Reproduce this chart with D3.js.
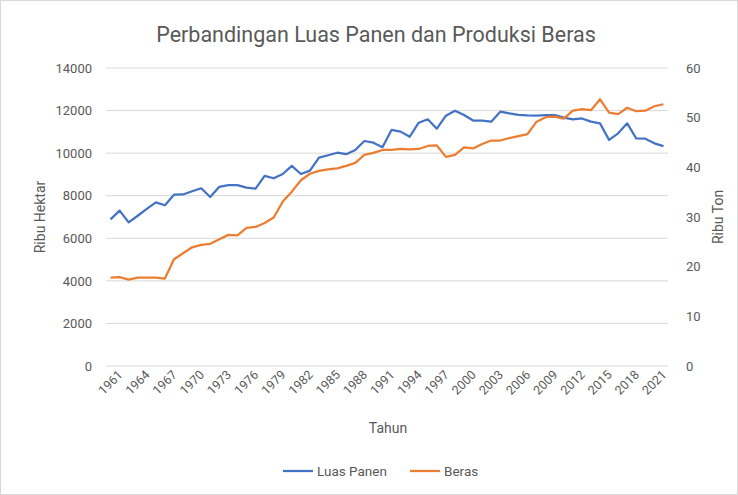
<!DOCTYPE html>
<html>
<head>
<meta charset="utf-8">
<script src="https://cdn.jsdelivr.net/npm/d3@7"></script>
<style>
  body { margin: 0; background: #fff; }
  text { font-family: "Liberation Sans Narrow", "Roboto", sans-serif; fill: #595959; }
</style>
</head>
<body>
<div id="chart"></div>
<script>
// data
var years = d3.range(1961, 2023)
var luasPanen = [6890, 7300, 6750, 7060, 7380, 7690, 7550, 8050, 8060, 8210,
  8350, 7940, 8420, 8500, 8500, 8380, 8330, 8930, 8820, 9020,
  9400, 9020, 9180, 9790, 9900, 10020, 9950, 10150, 10570, 10490,
  10280, 11090, 11010, 10770, 11430, 11590, 11150, 11760, 11990, 11790,
  11530, 11530, 11480, 11950, 11870, 11800, 11770, 11760, 11790, 11790,
  11670, 11590, 11630, 11480, 11400, 10620, 10930, 11400, 10690, 10680,
  10460, 10330]
var beras = [17.8, 17.9, 17.4, 17.8, 17.8, 17.8, 17.6, 21.5, 22.7, 23.9,
  24.4, 24.6, 25.5, 26.4, 26.3, 27.8, 28.0, 28.8, 29.9, 33.1,
  35.1, 37.4, 38.7, 39.3, 39.6, 39.8, 40.3, 40.9, 42.5, 42.9,
  43.5, 43.5, 43.7, 43.6, 43.7, 44.3, 44.4, 42.1, 42.5, 44.0,
  43.8, 44.7, 45.4, 45.4, 45.9, 46.3, 46.7, 49.2, 50.1, 50.2,
  49.8, 51.4, 51.7, 51.5, 53.7, 51.0, 50.7, 52.0, 51.3, 51.4,
  52.3, 52.7]
var leftTicks = [0, 2000, 4000, 6000, 8000, 10000, 12000, 14000]
var rightTicks = [0, 10, 20, 30, 40, 50, 60]
var yearTicks = years.filter(function(d, i) { return i % 3 == 0 })

var W = 738, H = 495
var plotL = 106, plotR = 668, plotT = 68, plotB = 366

var svg = d3.select("#chart")
  .append("svg")
    .attr("width", W)
    .attr("height", H)

// chart border
svg.append("rect")
  .attr("x", 0.5).attr("y", 0.5)
  .attr("width", W - 1).attr("height", H - 1)
  .attr("fill", "#fff")
  .attr("stroke", "#d9d9d9")

var x = d3.scalePoint()
  .domain(years)
  .range([plotL, plotR])
  .padding(0.5)

var y = d3.scaleLinear().domain([0, 14000]).range([plotB, plotT])
var y2 = d3.scaleLinear().domain([0, 60]).range([plotB, plotT])

// gridlines
svg.append("g")
  .selectAll("line")
  .data(leftTicks)
  .enter()
  .append("line")
    .attr("x1", plotL).attr("x2", plotR)
    .attr("y1", function(d) { return y(d) })
    .attr("y2", function(d) { return y(d) })
    .attr("stroke", "#d9d9d9")
    .attr("stroke-width", 1)

// left axis
var gl = svg.append("g")
  .attr("transform", "translate(" + (plotL - 14) + ",0)")
  .call(d3.axisLeft(y).tickValues(leftTicks).tickFormat(d3.format("d")).tickSize(0).tickPadding(0))
gl.select(".domain").remove()
gl.selectAll("text").style("font-size", "13px").style("fill", "#595959")

// right axis
var gr = svg.append("g")
  .attr("transform", "translate(" + (plotR + 18) + ",0)")
  .call(d3.axisRight(y2).tickValues(rightTicks).tickSize(0).tickPadding(0))
gr.select(".domain").remove()
gr.selectAll("text").style("font-size", "13px").style("fill", "#595959")

// x axis labels, rotated
var gx = svg.append("g")
  .attr("transform", "translate(0," + (plotB + 7) + ")")
  .call(d3.axisBottom(x).tickValues(yearTicks).tickSize(0))
gx.select(".domain").remove()
gx.selectAll("text")
  .style("font-size", "12.5px")
  .style("fill", "#595959")
  .style("text-anchor", "end")
  .attr("dx", "0.55em")
  .attr("dy", "0.6em")
  .attr("transform", "rotate(-45)")

// lines
var line1 = d3.line()
  .x(function(d, i) { return x(years[i]) })
  .y(function(d) { return y(d) })
var line2 = d3.line()
  .x(function(d, i) { return x(years[i]) })
  .y(function(d) { return y2(d) })

svg.append("path")
  .datum(luasPanen)
  .attr("d", line1)
  .attr("fill", "none")
  .attr("stroke", "#4472c4")
  .attr("stroke-width", 2.25)
  .attr("stroke-linejoin", "round")

svg.append("path")
  .datum(beras)
  .attr("d", line2)
  .attr("fill", "none")
  .attr("stroke", "#ed7d31")
  .attr("stroke-width", 2.25)
  .attr("stroke-linejoin", "round")

// title
svg.append("text")
  .attr("x", 376).attr("y", 42)
  .attr("text-anchor", "middle")
  .style("font-size", "21.5px")
  .text("Perbandingan Luas Panen dan Produksi Beras")

// axis titles
svg.append("text")
  .attr("text-anchor", "middle")
  .attr("transform", "translate(45," + ((plotT + plotB) / 2) + ") rotate(-90)")
  .style("font-size", "14px")
  .text("Ribu Hektar")

svg.append("text")
  .attr("text-anchor", "middle")
  .attr("transform", "translate(723," + ((plotT + plotB) / 2) + ") rotate(-90)")
  .style("font-size", "14px")
  .text("Ribu Ton")

svg.append("text")
  .attr("x", 388).attr("y", 433)
  .attr("text-anchor", "middle")
  .style("font-size", "14px")
  .text("Tahun")

// legend
var legend = [
  {name: "Luas Panen", color: "#4472c4", x: 283},
  {name: "Beras", color: "#ed7d31", x: 410}
]
var lg = svg.append("g")
  .selectAll("g")
  .data(legend)
  .enter()
  .append("g")
    .attr("transform", function(d) { return "translate(" + d.x + ",471)" })
lg.append("line")
  .attr("x1", 0).attr("x2", 30)
  .attr("stroke", function(d) { return d.color })
  .attr("stroke-width", 2.25)
lg.append("text")
  .attr("x", 34).attr("dy", "0.35em")
  .style("font-size", "13.5px")
  .text(function(d) { return d.name })
</script>
</body>
</html>
